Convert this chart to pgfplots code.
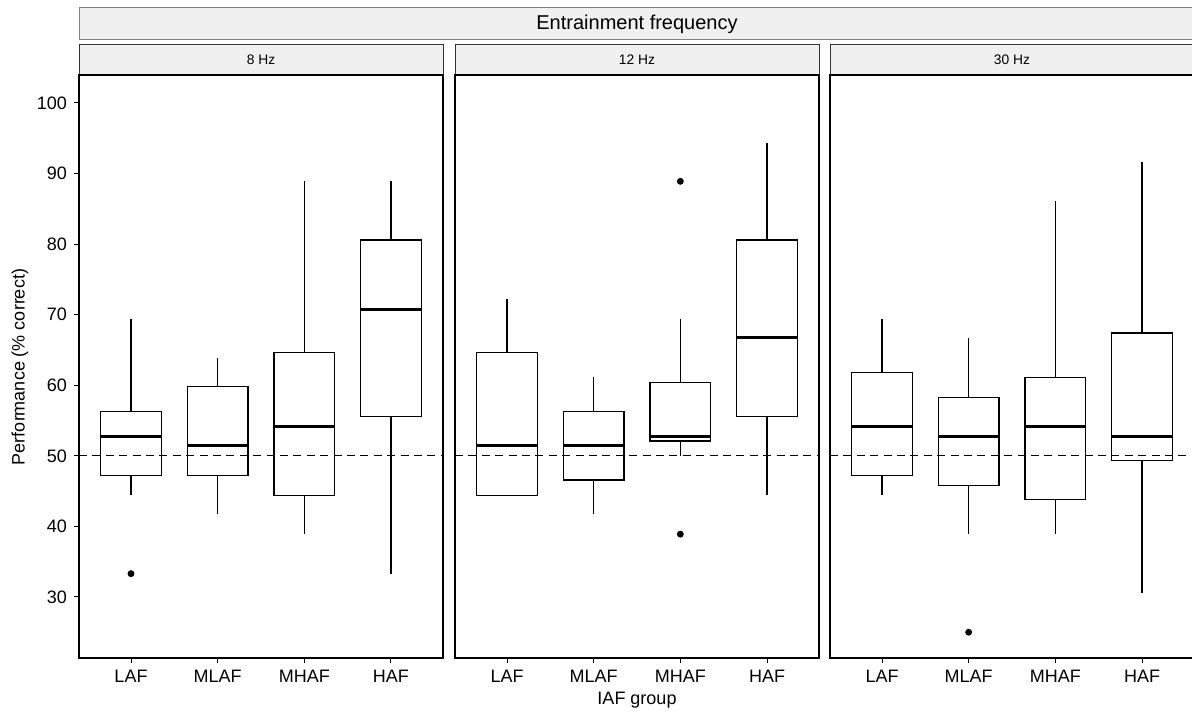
\documentclass[border=0pt]{standalone}
\usepackage{pgfplots}
\pgfplotsset{compat=1.18}
\usepackage{fontspec}
\setmainfont{Liberation Sans}
\definecolor{stripfill}{RGB}{240,240,240}
\definecolor{stripline}{RGB}{130,130,130}
\pgfplotsset{
  panel/.style={
    scale only axis, width=182pt, height=291.5pt,
    xmin=0.4, xmax=4.6, ymin=21.35, ymax=103.97,
    xtick={1,2,3,4}, xticklabels={LAF,MLAF,MHAF,HAF},
    xtick pos=bottom, ytick pos=left,
    tick align=outside, major tick length=2.5pt,
    every tick/.style={black, line width=0.5pt},
    axis line style={black, line width=0.6pt},
    tick label style={font=\fontsize{9}{10}\selectfont, black},
    /pgf/number format/assume math mode=true,
    clip=false,
  },
  boxst/.style={black, solid, line width=0.7pt, no marks, line join=miter},
  medst/.style={black, solid, line width=1.5pt, no marks},
  outst/.style={black, only marks, mark=*, mark size=1.5pt, mark options={fill=black, draw=black, solid}},
  refline/.style={black, line width=0.5pt, dash pattern=on 4pt off 2.7pt, no marks},
}
% #1 left edge, #2 centre, #3 right edge, #4 lower whisker, #5 lower quartile,
% #6 median, #7 upper quartile, #8 upper whisker
\newcommand{\bx}[8]{%
  \addplot[boxst, line cap=rect] coordinates {(#1,#5) (#3,#5) (#3,#7) (#1,#7) (#1,#5)};
  \addplot[boxst] coordinates {(#2,#4) (#2,#5)};
  \addplot[boxst] coordinates {(#2,#7) (#2,#8)};
  \addplot[medst] coordinates {(#1,#6) (#3,#6)};
}
\begin{document}
\begin{tikzpicture}
\useasboundingbox (0,0) rectangle (596pt,355.5pt);
% ---------- 8 Hz ----------
\begin{axis}[panel, at={(39.5pt,26.5pt)}, anchor=south west, ytick={30,40,...,100}]
\bx{0.65}{1}{1.35}{44.4}{47.2}{52.8}{56.3}{69.4}
\bx{1.65}{2}{2.35}{41.7}{47.2}{51.4}{59.8}{63.9}
\bx{2.65}{3}{3.35}{38.9}{44.4}{54.2}{64.6}{88.9}
\bx{3.65}{4}{4.35}{33.3}{55.6}{70.8}{80.6}{88.9}
\addplot[outst] coordinates {(1,33.3)};
\addplot[refline] coordinates {(0.4,50) (4.6,50)};
\end{axis}
% ---------- 12 Hz ----------
\begin{axis}[panel, at={(227.5pt,26.5pt)}, anchor=south west, ytick=\empty]
\bx{0.65}{1}{1.35}{44.4}{44.4}{51.4}{64.6}{72.2}
\bx{1.65}{2}{2.35}{41.7}{46.6}{51.4}{56.3}{61.1}
\bx{2.65}{3}{3.35}{50.0}{52.1}{52.8}{60.4}{69.4}
\bx{3.65}{4}{4.35}{44.4}{55.6}{66.7}{80.6}{94.4}
\addplot[outst] coordinates {(3,88.9) (3,38.9)};
\addplot[refline] coordinates {(0.4,50) (4.6,50)};
\end{axis}
% ---------- 30 Hz ----------
\begin{axis}[panel, at={(415pt,26.5pt)}, anchor=south west, ytick=\empty]
\bx{0.65}{1}{1.35}{44.4}{47.2}{54.2}{61.8}{69.4}
\bx{1.65}{2}{2.35}{38.9}{45.8}{52.8}{58.3}{66.7}
\bx{2.65}{3}{3.35}{38.9}{43.8}{54.2}{61.1}{86.1}
\bx{3.65}{4}{4.35}{30.6}{49.3}{52.8}{67.4}{91.7}
\addplot[outst] coordinates {(2,25.0)};
\addplot[refline] coordinates {(0.4,50) (4.6,50)};
\end{axis}
% ---------- strips ----------
\draw[fill=stripfill, draw=stripline, line width=0.5pt] (39.5pt,335.5pt) rectangle (600pt,351.5pt);
\node at (318.5pt,343.5pt) {\fontsize{10}{11}\selectfont Entrainment frequency};
\foreach \xa/\xb/\lab in {39.5/221.5/8 Hz, 227.5/409.5/12 Hz, 415/597/30 Hz}{
  \draw[fill=stripfill, draw=black!80, line width=0.5pt] (\xa pt,318pt) rectangle (\xb pt,333pt);
  \draw[black, line width=1.3pt] (\xa pt,318pt) -- (\xb pt,318pt);
  \node at ({(\xa+\xb)/2*1pt},325.8pt) {\fontsize{6.9}{8}\selectfont \lab};
}
% ---------- axis titles ----------
\node at (318.5pt,5.5pt) {\fontsize{9}{10}\selectfont IAF group};
\node[rotate=90] at (10pt,172pt) {\fontsize{9}{10}\selectfont Performance (\% correct)};
\end{tikzpicture}
\end{document}
